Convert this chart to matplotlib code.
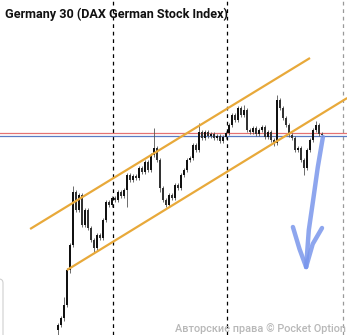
import matplotlib.pyplot as plt
from matplotlib.patches import FancyBboxPatch

# price path (arbitrary index points), one bar per entry
first_open = 5
closes = [10, 17, 30, 65, 90, 143, 125, 140, 110, 125,
          107, 95, 87, 100, 97, 115, 133, 130, 137, 135,
          143, 139, 145, 160, 155, 159, 157, 167, 163, 173,
          165, 180, 187, 175, 147, 135, 130, 140, 137, 150,
          147, 160, 165, 175, 177, 190, 185, 203, 197, 203,
          199, 201, 197, 199, 194, 198, 202, 210, 220, 215,
          227, 220, 225, 205, 203, 207, 201, 205, 208, 198,
          203, 195, 192, 235, 227, 217, 210, 200, 197, 185,
          187, 175, 167, 185, 195, 205, 210, 201, 200]
wick_up = [2, 2, 8, 2, 2, 6, 2, 2, 2, 2,
           2, 2, 2, 2, 2, 2, 2, 2, 2, 2,
           2, 2, 2, 2, 2, 2, 2, 2, 2, 2,
           2, 2, 20, 2, 2, 2, 2, 2, 2, 2,
           2, 2, 2, 2, 2, 2, 2, 9, 2, 2,
           2, 2, 2, 2, 2, 2, 2, 2, 2, 2,
           2, 2, 5, 2, 2, 2, 2, 2, 2, 2,
           2, 2, 2, 5, 2, 2, 2, 2, 2, 2,
           2, 2, 2, 2, 2, 2, 4, 2, 2]
wick_dn = [5, 2, 3, 2, 3, 2, 2, 2, 2, 2,
           2, 2, 4, 2, 2, 2, 2, 2, 2, 2,
           2, 2, 2, 17, 2, 2, 2, 2, 2, 2,
           2, 2, 2, 2, 4, 2, 2, 2, 2, 2,
           2, 2, 2, 2, 2, 2, 2, 2, 2, 2,
           2, 2, 2, 2, 2, 2, 2, 2, 2, 2,
           2, 2, 2, 2, 2, 2, 2, 2, 2, 2,
           2, 2, 3, 2, 2, 2, 2, 2, 2, 2,
           2, 2, 7, 2, 2, 2, 2, 2, 2]

# channel drawn on the chart (bar index, price)
channel_x = [-9.3, 84.0]
channel_upper = [106, 277]
channel_x2 = [3.0, 96.4]
channel_lower = [65, 237]

# session separators (bar index) and level lines (price)
sessions = [18.33, 56.33]
session_end = 95.0
level_red = 202
level_blue = 199

# hand drawn arrow
arrow_x = [88.3, 86.6, 85.0, 83.6, 82.7]
arrow_y = [198, 168, 134, 105, 68]
head_left_x = [78.3, 80.5, 82.7]
head_left_y = [108, 86, 68]
head_right_x = [88.0, 84.9, 82.7]
head_right_y = [107, 91, 68]


def draw_chart():
    fig = plt.figure(figsize=(3.47, 3.35), dpi=100)
    ax = fig.add_axes([0, 0, 1, 1])
    ax.set_xlim(-19.33, 96.33)
    ax.set_ylim(0, 335)
    ax.axis('off')

    opens = [first_open] + closes[:-1]
    xs = list(range(len(closes)))
    highs = [max(o, c) + w for o, c, w in zip(opens, closes, wick_up)]
    lows = [min(o, c) - w for o, c, w in zip(opens, closes, wick_dn)]

    for x in sessions:
        ax.axvline(x, color='black', lw=0.9, ls=(0, (3, 3)), zorder=1)
    ax.axvline(session_end, color='#999999', lw=0.9, ls=(0, (3, 3)), zorder=1)

    ax.axhline(level_red, color='#e57373', lw=0.9, zorder=2)
    ax.axhline(level_blue, color='#5b7bc4', lw=0.9, zorder=2)

    ax.vlines(xs, lows, highs, color='#555555', lw=0.6, zorder=3)
    bottoms = [min(o, c) for o, c in zip(opens, closes)]
    heights = [max(abs(c - o), 1) for o, c in zip(opens, closes)]
    colors = ['#111111' if c >= o else '#333333' for o, c in zip(opens, closes)]
    ax.bar(xs, heights, bottom=bottoms, width=0.6, color=colors, zorder=4)

    ax.plot(channel_x, channel_upper, color='#e8a93a', lw=1.6, zorder=5,
            solid_capstyle='butt')
    ax.plot(channel_x2, channel_lower, color='#e8a93a', lw=1.6, zorder=5,
            solid_capstyle='butt')

    arrow_style = dict(color='#7a97ec', lw=3.2, alpha=0.85, zorder=6,
                       solid_capstyle='round', solid_joinstyle='round')
    ax.plot(arrow_x, arrow_y, **arrow_style)
    ax.plot(head_left_x, head_left_y, **arrow_style)
    ax.plot(head_right_x, head_right_y, **arrow_style)

    # faint panel edge at the bottom left
    panel = FancyBboxPatch((-20, -20), 23, 76, boxstyle='round,pad=0,rounding_size=4',
                           transform=None, fill=False, ec='#d0d0d0', lw=0.8)
    fig.patches.append(panel)

    fig.text(0.015, 0.977, 'Germany 30 (DAX German Stock Index)',
             family='Roboto', weight='bold', fontsize=9.1,
             ha='left', va='top', color='#111111')
    fig.text(0.997, 0.003, 'Авторские права © Pocket Option',
             family='Roboto', weight='medium', fontsize=7.8, color='#b8b8b8',
             ha='right', va='bottom')

    fig.savefig('out.png', dpi=100)


def main():
    draw_chart()


if __name__ == "__main__":
    main()
